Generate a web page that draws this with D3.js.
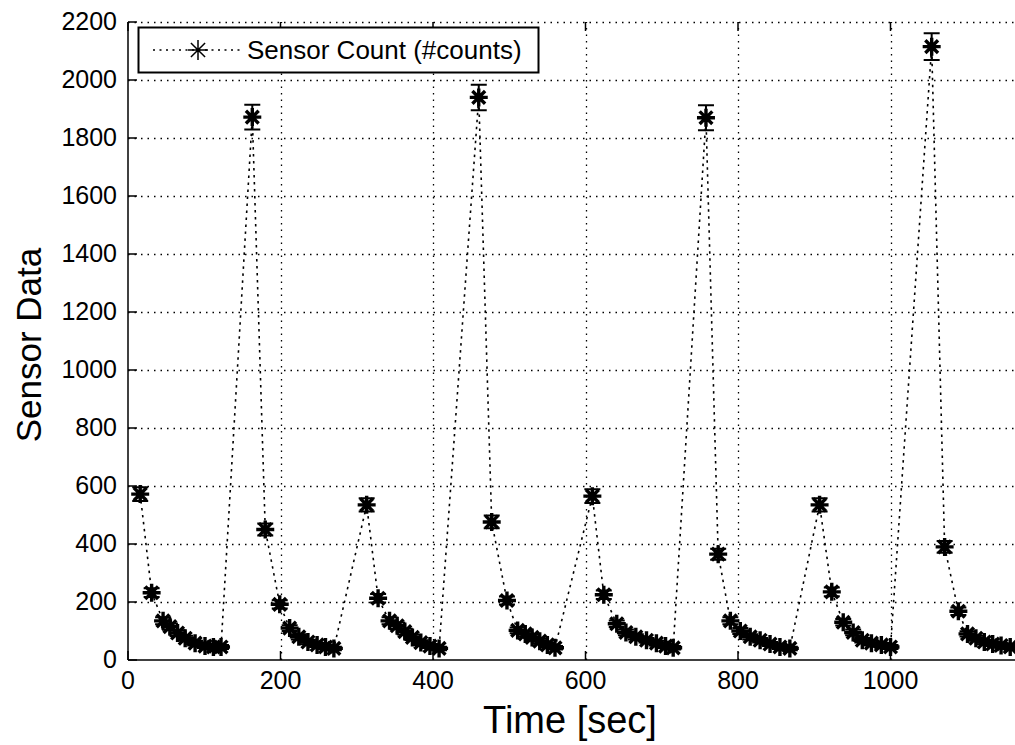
<!DOCTYPE html>
<html>
<head>
<meta charset="utf-8">
<script src="https://cdn.jsdelivr.net/npm/d3@7"></script>
<style>
  html, body { margin: 0; padding: 0; background: #fff; }
  svg { display: block; }
  text { font-family: "Liberation Sans", Arial, sans-serif; fill: #000; }
</style>
</head>
<body>
<svg id="chart" width="1015" height="745"></svg>
<script>
// ---- data ----
const timeSec = [
  16, 31, 46, 55, 65, 75, 88, 101, 112, 122,
  163, 180, 199, 212, 224, 236, 248, 259, 270,
  313, 328, 343, 353, 363, 373, 384, 396, 408,
  460, 477, 497, 511, 521, 530, 540, 550, 560,
  609, 624, 641, 653, 666, 680, 693, 705, 715,
  758, 774, 790, 803, 816, 829, 842, 855, 868,
  907, 923, 938, 951, 963, 975, 988, 1000,
  1054, 1071, 1089, 1101, 1112, 1123, 1134, 1145, 1157
];
const counts = [
  572, 232, 135, 115, 93, 75, 58, 48, 45, 45,
  1872, 450, 192, 110, 80, 62, 52, 45, 40,
  535, 213, 135, 118, 98, 78, 60, 48, 40,
  1940, 476, 205, 102, 90, 78, 65, 52, 42,
  565, 225, 125, 95, 80, 68, 58, 48, 42,
  1870, 365, 135, 100, 80, 68, 55, 45, 40,
  535, 235, 130, 95, 68, 58, 52, 45,
  2115, 390, 168, 90, 75, 62, 55, 50, 45
];
const countErr = [
  24, 15, 12, 11, 10, 9, 8, 7, 7, 7,
  43, 21, 14, 10, 9, 8, 7, 7, 6,
  23, 15, 12, 11, 10, 9, 8, 7, 6,
  44, 22, 14, 10, 9, 9, 8, 7, 6,
  24, 15, 11, 10, 9, 8, 8, 7, 6,
  43, 19, 12, 10, 9, 8, 7, 7, 6,
  23, 15, 11, 10, 8, 8, 7, 7,
  46, 20, 13, 9, 9, 8, 7, 7, 7
];
const xTicks = [0, 200, 400, 600, 800, 1000];
const yTicks = [0, 200, 400, 600, 800, 1000, 1200, 1400, 1600, 1800, 2000, 2200];
const seriesName = "Sensor Count (#counts)";
const xLabel = "Time [sec]";
const yLabel = "Sensor Data";

// ---- layout ----
const svg = d3.select("#chart");
const pL = 128, pT = 22, pB = 660, pR = 1043;
const x = d3.scaleLinear().domain([0, 1200]).range([pL, pR]);
const y = d3.scaleLinear().domain([0, 2200]).range([pB, pT]);

const data = timeSec.map((t, i) => ({ t, v: counts[i], e: countErr[i] }));

// grid
const grid = svg.append("g").attr("stroke", "#000").attr("stroke-width", 1.3)
  .attr("stroke-dasharray", "1.5,5").attr("fill", "none");
grid.selectAll("line.h").data(yTicks.filter(d => d > 0)).join("line").attr("class", "h")
  .attr("x1", pL).attr("x2", pR)
  .attr("y1", d => Math.round(y(d)) + 0.5).attr("y2", d => Math.round(y(d)) + 0.5);
grid.selectAll("line.v").data(xTicks.filter(d => d > 0)).join("line").attr("class", "v")
  .attr("y1", pB).attr("y2", pT)
  .attr("x1", d => Math.round(x(d)) + 0.5).attr("x2", d => Math.round(x(d)) + 0.5);

// data line
svg.append("path").datum(data)
  .attr("fill", "none").attr("stroke", "#000").attr("stroke-width", 1.6)
  .attr("stroke-dasharray", "2.5,4.5")
  .attr("d", d3.line().x(d => x(d.t)).y(d => y(d.v)));

// error bars
const eb = svg.append("g").attr("stroke", "#000").attr("stroke-width", 2).attr("fill", "none");
const cap = 8;
eb.selectAll("path").data(data).join("path")
  .attr("d", d => {
    const cx = x(d.t), y1 = y(d.v - d.e), y2 = y(d.v + d.e);
    return `M${cx},${y1}V${y2}M${cx - cap},${y1}H${cx + cap}M${cx - cap},${y2}H${cx + cap}`;
  });

// asterisk markers
function star(cx, cy, r) {
  const d = r * Math.SQRT1_2;
  return `M${cx - r},${cy}H${cx + r}M${cx},${cy - r}V${cy + r}` +
         `M${cx - d},${cy - d}L${cx + d},${cy + d}M${cx - d},${cy + d}L${cx + d},${cy - d}`;
}
svg.append("g").attr("stroke", "#000").attr("stroke-width", 3.4).attr("fill", "none")
  .selectAll("path").data(data).join("path")
  .attr("d", d => star(x(d.t), y(d.v), 9));

// axes
const axes = svg.append("g").attr("stroke", "#000").attr("stroke-width", 1.5).attr("fill", "none");
axes.append("line").attr("x1", pL).attr("x2", pL).attr("y1", pT).attr("y2", pB);
axes.append("line").attr("x1", pL).attr("x2", pR).attr("y1", pB).attr("y2", pB);
const tl = 9;
axes.selectAll("line.yt").data(yTicks).join("line").attr("class", "yt")
  .attr("x1", pL).attr("x2", pL + tl)
  .attr("y1", d => y(d)).attr("y2", d => y(d));
axes.selectAll("line.xt").data(xTicks).join("line").attr("class", "xt")
  .attr("y1", pB).attr("y2", pB - tl)
  .attr("x1", d => x(d)).attr("x2", d => x(d));
axes.selectAll("line.xtt").data(xTicks).join("line").attr("class", "xtt")
  .attr("y1", pT).attr("y2", pT + tl)
  .attr("x1", d => x(d)).attr("x2", d => x(d));

// tick labels
svg.append("g").selectAll("text").data(yTicks).join("text")
  .attr("x", pL - 11).attr("y", d => y(d) + 8)
  .attr("text-anchor", "end").attr("font-size", 25).text(d => d);
svg.append("g").selectAll("text").data(xTicks).join("text")
  .attr("x", d => x(d)).attr("y", pB + 29)
  .attr("text-anchor", "middle").attr("font-size", 25).text(d => d);

// axis labels
svg.append("text").attr("x", 570).attr("y", 733).attr("text-anchor", "middle")
  .attr("font-size", 38).text(xLabel);
svg.append("text").attr("transform", "translate(41,345) rotate(-90)")
  .attr("text-anchor", "middle").attr("font-size", 35).text(yLabel);

// legend
const lg = svg.append("g");
lg.append("rect").attr("x", 138.5).attr("y", 27.5).attr("width", 400).attr("height", 45)
  .attr("fill", "#fff").attr("stroke", "#000").attr("stroke-width", 2);
lg.append("line").attr("x1", 153).attr("x2", 243).attr("y1", 50).attr("y2", 50)
  .attr("stroke", "#000").attr("stroke-width", 1.4).attr("stroke-dasharray", "2,4.5");
lg.append("path").attr("d", star(198, 50, 10)).attr("stroke", "#000")
  .attr("stroke-width", 1.5).attr("fill", "none");
lg.append("text").attr("x", 247).attr("y", 59).attr("font-size", 26).text(seriesName);
</script>
</body>
</html>
